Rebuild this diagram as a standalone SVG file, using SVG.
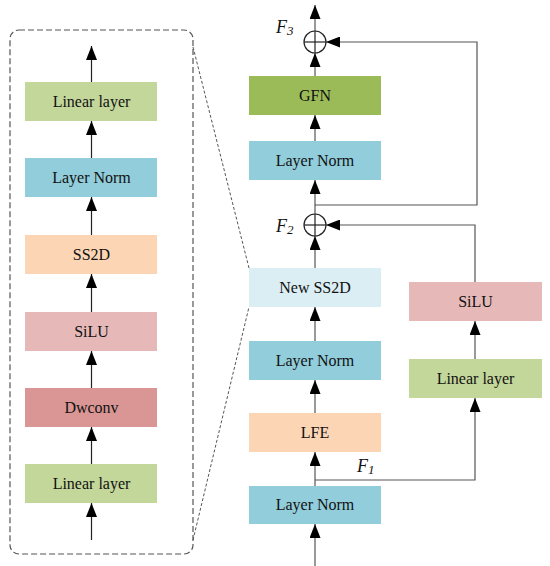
<svg xmlns="http://www.w3.org/2000/svg" width="550" height="566" viewBox="0 0 550 566">
<defs>
<marker id="ah" markerWidth="14" markerHeight="11" refX="14" refY="5.5" orient="auto" markerUnits="userSpaceOnUse" viewBox="0 0 14 11">
<path d="M0,0 L14,5.5 L0,11 Z" fill="#000"/>
</marker>
<style>
.box{stroke:none}
.t{font-family:"Liberation Serif","Times New Roman",serif;font-size:16px;fill:#111;text-anchor:middle}
.f{font-family:"Liberation Serif","Times New Roman",serif;font-style:italic;fill:#111}
.ln{fill:none;stroke:#555;stroke-width:1.2}
.lk{fill:none;stroke:#222;stroke-width:1.2}
.ar{fill:none;stroke:#555;stroke-width:1.2;marker-end:url(#ah)}
.ark{fill:none;stroke:#222;stroke-width:1.2;marker-end:url(#ah)}
.dash{fill:none;stroke:#555;stroke-width:1}
</style>
</defs>
<rect width="550" height="566" fill="#fff"/>
<!-- left zoom panel -->
<g id="panel">
<rect x="10" y="30" width="183" height="524" rx="9" ry="9" fill="none" stroke="#555" stroke-width="1.2" stroke-dasharray="6,3"/>
</g>
<g id="connectors">
<!-- panel-to-node dashed guides -->
<line class="dash" x1="193" y1="47" x2="249" y2="268" stroke-dasharray="3,2"/>
<line class="dash" x1="193" y1="540" x2="249" y2="307" stroke-dasharray="3,2"/>
<!-- left panel arrows -->
<line class="ark" x1="91.5" y1="540" x2="91.5" y2="503"/>
<line class="ark" x1="91.5" y1="464" x2="91.5" y2="427"/>
<line class="ark" x1="91.5" y1="388" x2="91.5" y2="351"/>
<line class="ark" x1="91.5" y1="312" x2="91.5" y2="274"/>
<line class="ark" x1="91.5" y1="235" x2="91.5" y2="197"/>
<line class="ark" x1="91.5" y1="158" x2="91.5" y2="121"/>
<line class="ark" x1="91.5" y1="82" x2="91.5" y2="46"/>
<!-- main column -->
<line class="ar" x1="315" y1="566" x2="315" y2="524"/>
<line class="ar" x1="315" y1="486" x2="315" y2="452"/>
<line class="ar" x1="315" y1="413" x2="315" y2="380"/>
<line class="ar" x1="315" y1="341" x2="315" y2="307"/>
<line class="ar" x1="315" y1="268" x2="315" y2="236"/>
<line class="ar" x1="315" y1="214" x2="315" y2="180"/>
<line class="ar" x1="315" y1="141" x2="315" y2="115"/>
<line class="ar" x1="315" y1="76" x2="315" y2="53"/>
<line class="ar" x1="315" y1="31" x2="315" y2="5"/>
<!-- F1 branch -->
<polyline class="ar" points="315,480 475,480 475,398"/>
<line class="ar" x1="475" y1="359" x2="475" y2="321"/>
<!-- SiLU to F2 -->
<polyline class="ar" points="475,282 475,225 326,225"/>
<!-- F2 skip to F3 -->
<polyline class="ar" points="315,205 477,205 477,42 326,42"/>
</g>
<!-- adders -->
<g id="add2">
<circle cx="315" cy="225" r="11" fill="none" stroke="#222" stroke-width="1.2"/>
<line class="lk" x1="304" y1="225" x2="326" y2="225"/>
<line class="lk" x1="315" y1="214" x2="315" y2="236"/>
<text class="f" x="276" y="232" font-size="18">F<tspan font-size="13" dy="2">2</tspan></text>
</g>
<g id="add3">
<circle cx="315" cy="42" r="11" fill="none" stroke="#222" stroke-width="1.2"/>
<line class="lk" x1="304" y1="42" x2="326" y2="42"/>
<line class="lk" x1="315" y1="31" x2="315" y2="53"/>
<text class="f" x="276" y="33" font-size="18">F<tspan font-size="13" dy="2">3</tspan></text>
</g>
<g id="f1label"><text class="f" x="357" y="472" font-size="18">F<tspan font-size="13" dy="2">1</tspan></text></g>
<!-- left panel nodes -->
<g id="l-linear-top"><rect class="box" x="25" y="82" width="132" height="39" fill="#C4D79B"/><text class="t" x="91.5" y="107">Linear layer</text></g>
<g id="l-layernorm"><rect class="box" x="25" y="158" width="132" height="39" fill="#92CDDC"/><text class="t" x="91.5" y="183">Layer Norm</text></g>
<g id="l-ss2d"><rect class="box" x="25" y="235" width="132" height="39" fill="#FCD5B5"/><text class="t" x="91.5" y="260">SS2D</text></g>
<g id="l-silu"><rect class="box" x="25" y="312" width="132" height="39" fill="#E6B9B8"/><text class="t" x="91.5" y="337">SiLU</text></g>
<g id="l-dwconv"><rect class="box" x="25" y="388" width="132" height="39" fill="#DA9694"/><text class="t" x="91.5" y="413">Dwconv</text></g>
<g id="l-linear-bot"><rect class="box" x="25" y="464" width="132" height="39" fill="#C4D79B"/><text class="t" x="91.5" y="489">Linear layer</text></g>
<!-- main column nodes -->
<g id="gfn"><rect class="box" x="249" y="76" width="132" height="39" fill="#9BBB59"/><text class="t" x="315" y="101">GFN</text></g>
<g id="layernorm3"><rect class="box" x="249" y="141" width="132" height="39" fill="#92CDDC"/><text class="t" x="315" y="166">Layer Norm</text></g>
<g id="newss2d"><rect class="box" x="249" y="268" width="132" height="39" fill="#DBEEF4"/><text class="t" x="315" y="293">New SS2D</text></g>
<g id="layernorm2"><rect class="box" x="249" y="341" width="132" height="39" fill="#92CDDC"/><text class="t" x="315" y="366">Layer Norm</text></g>
<g id="lfe"><rect class="box" x="249" y="413" width="132" height="39" fill="#FCD5B5"/><text class="t" x="315" y="438">LFE</text></g>
<g id="layernorm1"><rect class="box" x="249" y="486" width="132" height="38" fill="#92CDDC"/><text class="t" x="315" y="510">Layer Norm</text></g>
<!-- right branch -->
<g id="silu"><rect class="box" x="409" y="282" width="133" height="39" fill="#E6B9B8"/><text class="t" x="475.5" y="307">SiLU</text></g>
<g id="linear"><rect class="box" x="409" y="359" width="133" height="39" fill="#C4D79B"/><text class="t" x="475.5" y="384">Linear layer</text></g>
</svg>
